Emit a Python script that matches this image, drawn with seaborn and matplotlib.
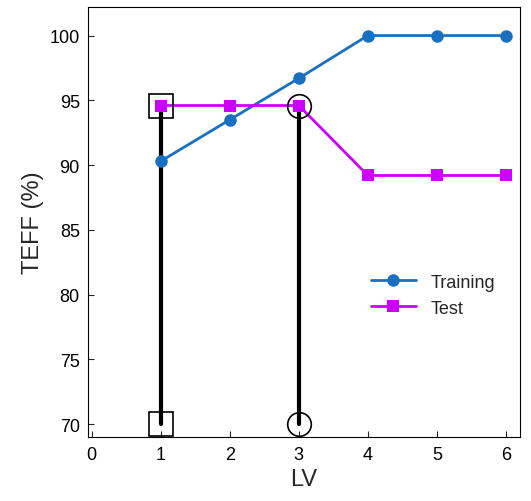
import matplotlib
matplotlib.use("Agg")
import matplotlib.pyplot as plt
import seaborn as sns
import pandas as pd

lv = [1, 2, 3, 4, 5, 6]
training = [90.3, 93.5, 96.7, 100, 100, 100]
test = [94.6, 94.6, 94.6, 89.2, 89.2, 89.2]
sel_sq_x = 1
sel_ci_x = 3
sel_y = 94.6
base_y = 70

sns.set_style("ticks")
plt.rcParams['font.family'] = ['Liberation Sans', 'DejaVu Sans']
fig = plt.figure(figsize=(5.31, 5.02), dpi=100)
ax = fig.add_axes([0.166, 0.127, 0.813, 0.857])

df = pd.DataFrame({"LV": lv * 2, "TEFF": training + test,
                   "set": ["Training"] * 6 + ["Test"] * 6})
sns.lineplot(data=df, x="LV", y="TEFF", hue="set", style="set",
             palette={"Training": "#1a70c0", "Test": "#cc00ff"},
             markers={"Training": "o", "Test": "s"}, dashes=False,
             markersize=9, linewidth=2, markeredgewidth=0, ax=ax)

for x in (sel_sq_x, sel_ci_x):
    ax.plot([x, x], [base_y, sel_y], color="black", lw=3, zorder=1)
ax.plot([sel_sq_x, sel_sq_x], [sel_y, base_y], ls="none", marker="s", ms=17,
        mfc="none", mec="black", mew=1.2)
ax.plot([sel_ci_x, sel_ci_x], [sel_y, base_y], ls="none", marker="o", ms=17,
        mfc="none", mec="black", mew=1.2)

ax.set_xlim(-0.05, 6.2)
ax.set_ylim(69, 102.2)
ax.set_xticks(range(0, 7))
ax.set_yticks(range(70, 101, 5))
ax.tick_params(labelsize=13, direction="in", length=4, labelcolor="black", pad=6)
ax.set_xlabel("LV", fontsize=17)
ax.set_ylabel("TEFF (%)", fontsize=17)
for s in ax.spines.values():
    s.set_color("black")
ax.legend(title=None, frameon=False, fontsize=13, loc="center right",
          bbox_to_anchor=(0.98, 0.33), handlelength=2.5)
fig.savefig("out.png", dpi=100)
